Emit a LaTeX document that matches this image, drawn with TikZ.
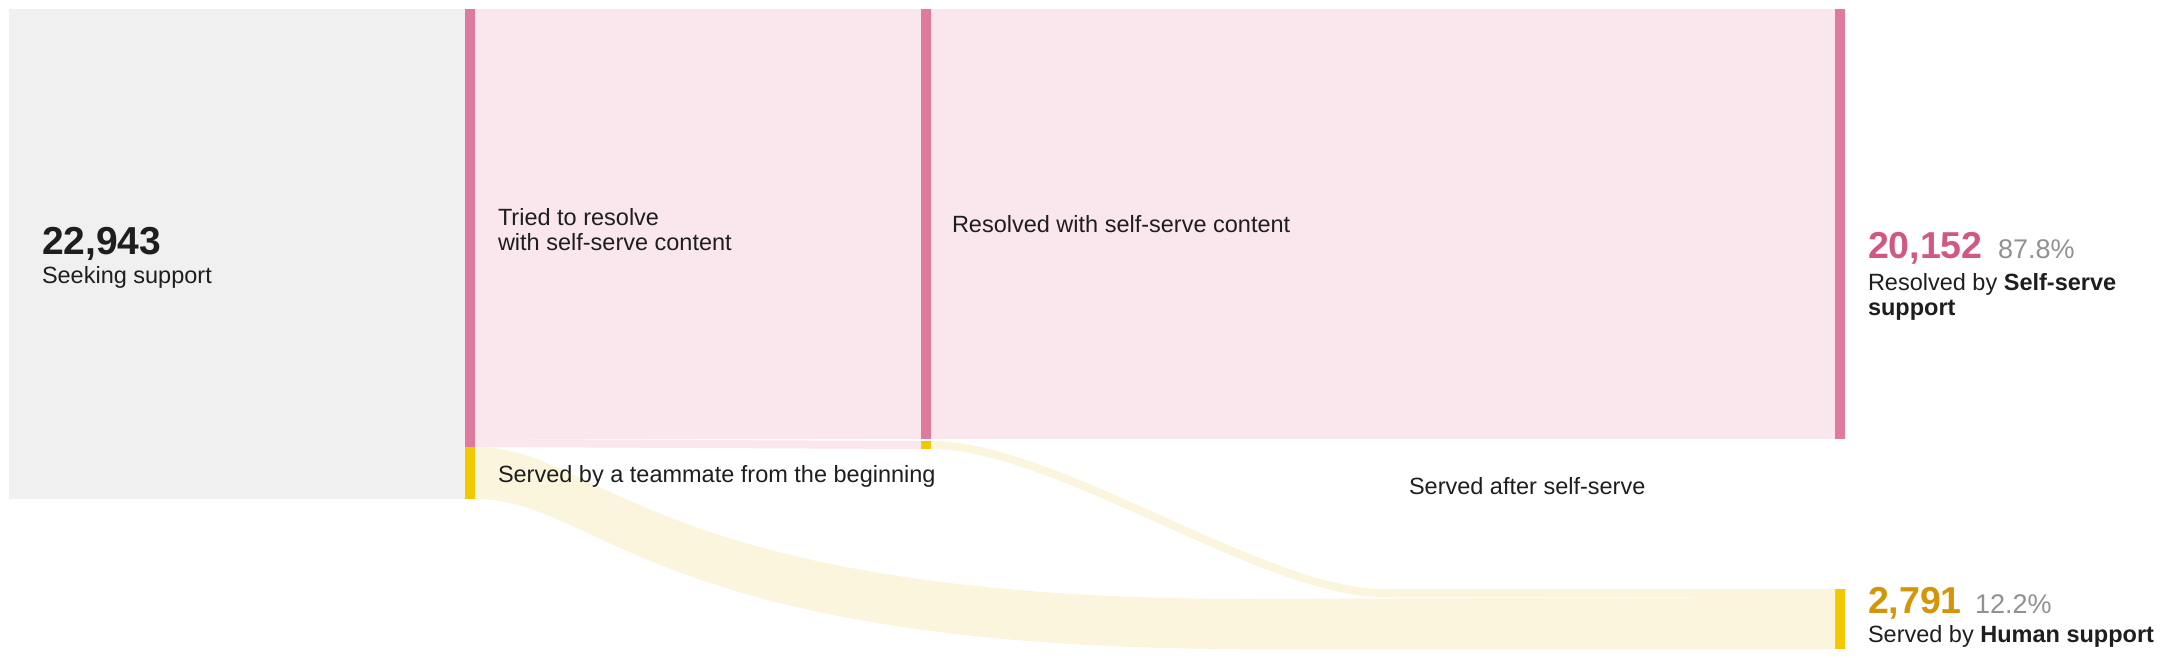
\documentclass[tikz,border=0pt]{standalone}
\usepackage{fontspec}
\setmainfont{Liberation Sans}
\usetikzlibrary{calc}
\definecolor{graybg}{RGB}{240,240,240}
\definecolor{pinkbar}{RGB}{222,122,158}
\definecolor{pinklt}{RGB}{250,230,237}
\definecolor{yelbar}{RGB}{242,201,0}
\definecolor{yellt}{RGB}{251,245,222}
\definecolor{pinknum}{RGB}{208,88,130}
\definecolor{goldnum}{RGB}{212,150,8}
\definecolor{pctgray}{RGB}{145,145,145}
\definecolor{txt}{RGB}{30,30,30}
\begin{document}
\begin{tikzpicture}[x=1pt,y=-1pt,
  bar/.style={draw=none,inner sep=0pt,outer sep=0pt,anchor=north west,minimum width=10pt},
  lbl/.style={inner sep=0pt,outer sep=0pt,anchor=base west,text=txt,font=\fontsize{23.5}{28}\selectfont},
  bignum/.style={inner sep=0pt,outer sep=0pt,anchor=base west,font=\fontsize{37.5}{44}\selectfont\bfseries},
  pct/.style={inner sep=0pt,outer sep=0pt,anchor=base west,text=pctgray,font=\fontsize{27}{32}\selectfont},
  flowfill/.style={fill=#1,draw=none}]
\useasboundingbox (0,0) rectangle (2163,658);
\fill[white] (0,0) rectangle (2163,658);

% nodes (bars)
\node[bar,fill=graybg,minimum width=456pt,minimum height=490pt] (seek) at (9,9) {};
\node[bar,fill=pinkbar,minimum height=438pt] (tried) at (465,9) {};
\node[bar,fill=yelbar,minimum height=52pt] (team) at (465,447) {};
\node[bar,fill=pinkbar,minimum height=430pt] (resmid) at (921,9) {};
\node[bar,fill=yelbar,minimum height=8pt] (after) at (921,441) {};
\node[bar,fill=pinkbar,minimum height=430pt] (selfres) at (1835,9) {};
\node[bar,fill=yelbar,minimum height=60pt] (human) at (1835,589) {};

% flows
\fill[flowfill=pinklt] (tried.north east) rectangle (resmid.south west);
\fill[flowfill=pinklt] ($(tried.south east)+(0,-8)$) -- (after.north west) -- (after.south west) -- (tried.south east) -- cycle;
\fill[flowfill=pinklt] (resmid.north east) rectangle (selfres.south west);
\fill[flowfill=yellt] (team.north east) .. controls +(125,0) and +(-600,0) .. ($(human.north west)+(-585,10)$)
   -- ($(human.north west)+(0,8)$) -- (human.south west) -- ($(human.south west)+(-585,0)$)
   .. controls +(-600,0) and +(125,0) .. (team.south east) -- cycle;
\draw[yellt,line width=8pt] (after.east) .. controls +(125,0) and +(-120,0) .. ($(human.north west)+(-452,4)$) -- ($(human.north west)+(0,4)$);

% labels
\node[bignum,text=txt,font=\fontsize{39}{46}\selectfont\bfseries] (seeknum) at (42,254) {22,943};
\node[lbl] (seeklbl) at (42,283) {Seeking support};
\node[lbl] (tried1) at (498,225) {Tried to resolve};
\node[lbl] (tried2) at (498,250.5) {with self-serve content};
\node[lbl] (reslbl) at (952,232) {Resolved with self-serve content};
\node[lbl] (teamlbl) at (498,482) {Served by a teammate from the beginning};
\node[lbl] (afterlbl) at (1409,494) {Served after self-serve};
\node[bignum,text=pinknum] (ssnum) at (1868,258) {20,152};
\node[pct] (sspct) at (1998,258) {87.8\%};
\node[lbl] (ss1) at (1868,290) {Resolved by \textbf{Self-serve}};
\node[lbl] (ss2) at (1868,315) {\textbf{support}};
\node[bignum,text=goldnum] (hnum) at (1868,613) {2,791};
\node[pct] (hpct) at (1975,613) {12.2\%};
\node[lbl] (h1) at (1868,642) {Served by \textbf{Human support}};
\end{tikzpicture}
\end{document}
